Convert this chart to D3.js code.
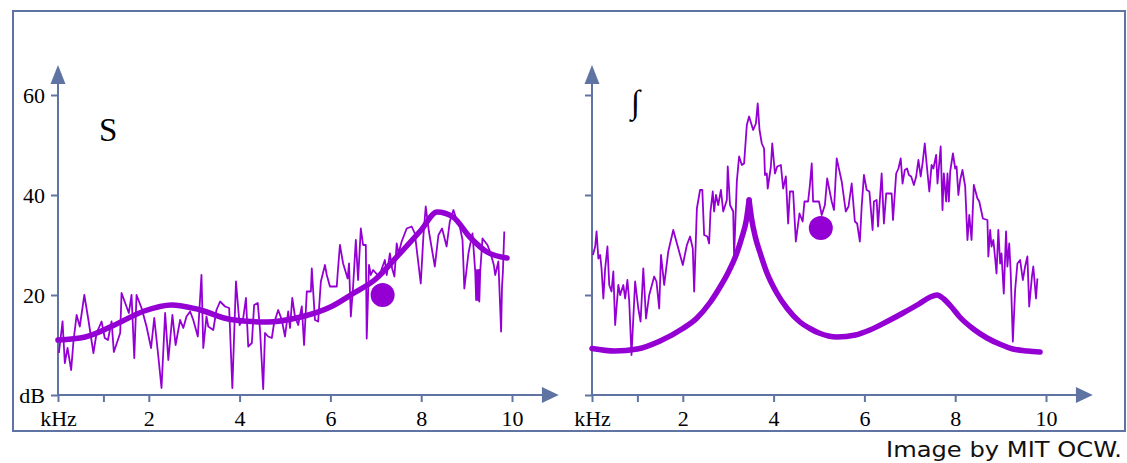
<!DOCTYPE html>
<html><head><meta charset="utf-8">
<script src="https://cdn.jsdelivr.net/npm/d3@7"></script>
<style>body{margin:0;background:#fff}svg{display:block}</style>
</head><body>
<script>
// ---------- DATA ----------
const xTicks = [0, 1, 2, 4, 6, 8, 10];
const xTickLabels = ["kHz", "", "2", "4", "6", "8", "10"];
const yTicks = [0, 20, 40, 60];
const yTickLabels = ["dB", "20", "40", "60"];
const panelTitles = ["S", "\u222B"];

// Panel S: noisy spectrum
const sNoisyKhz = [0.02,0.1,0.15,0.21,0.29,0.34,0.41,0.48,0.58,0.67,0.78,0.85,0.96,1.03,1.1,1.18,1.23,1.37,1.4,1.48,1.56,1.62,1.68,1.73,1.84,1.95,2.05,2.12,2.21,2.28,2.36,2.43,2.52,2.59,2.69,2.76,2.83,2.91,2.98,3.08,3.16,3.2,3.27,3.31,3.42,3.49,3.57,3.68,3.77,3.84,3.92,4.0,4.08,4.14,4.19,4.27,4.32,4.4,4.45,4.52,4.56,4.63,4.71,4.76,4.85,4.93,5.0,5.07,5.11,5.16,5.22,5.29,5.37,5.42,5.48,5.57,5.59,5.66,5.73,5.79,5.88,5.92,5.99,6.14,6.16,6.21,6.28,6.38,6.41,6.45,6.5,6.56,6.61,6.67,6.72,6.78,6.8,6.85,6.89,6.94,7.04,7.11,7.2,7.24,7.31,7.36,7.41,7.46,7.5,7.57,7.68,7.79,7.86,7.99,8.05,8.1,8.17,8.3,8.38,8.46,8.56,8.63,8.71,8.78,8.85,8.91,8.95,9.04,9.07,9.13,9.19,9.21,9.23,9.25,9.27,9.28,9.3,9.35,9.46,9.53,9.6,9.63,9.7,9.76,9.78,9.8,9.83];
const sNoisyDb  = [8.4,14.7,6.4,9.4,5,10.7,16,13.7,20,15,8.4,12.4,14.7,11.4,11,14.7,8.6,12.4,20.4,18.4,16.4,20,7.4,20,17.4,13.7,9.4,15.4,7.7,1.4,16.4,7,16,10,15,13.4,15.7,16.7,15,11.7,24,9.4,15.7,13.7,13,17,18.7,17.7,17.4,1.4,22.7,14,15.4,19.4,9.7,10.4,18,18.4,13,1.2,12.4,11.7,11.4,14.4,17,15,11.7,16.7,13.4,19.4,15.7,14,17.7,10,20.7,20.7,25.3,15,14.7,22.7,26,24,21.7,21.7,24.3,30,26.3,23.3,26.3,15.7,21.7,31,23,33.3,30,30,11.3,26,24,25,24,24.7,27,24,28.3,25.3,23.7,30.3,28.3,30.7,33.3,33.7,32.3,22.3,32,37.7,32.7,25.7,32,33.3,29.7,34.7,37,35,33.7,31,21.3,28.3,29.7,32.3,24.7,19,25,19,25,18.7,24.7,31.3,30,28.3,26,24,26.7,12.7,21.7,24.7,32.7];
// Panel S: smooth envelope
const sCurveKhz = [0,0.6,1.2,1.9,2.5,3.1,3.8,4.6,5.3,6.0,6.5,7.0,7.5,8.0,8.35,8.7,9.07,9.45,9.89];
const sCurveDb  = [11,11.6,13.8,16.8,18,17.1,15.1,14.6,15.5,17.6,20.3,23.2,28,33,36.6,35.6,31.6,28.6,27.4];
const sDot = [7.15, 20];

// Panel ∫: noisy spectrum
const iNoisyKhz = [0.02,0.07,0.1,0.14,0.18,0.21,0.25,0.29,0.34,0.38,0.43,0.47,0.51,0.58,0.62,0.69,0.73,0.78,0.82,0.87,0.95,1.02,1.07,1.13,1.19,1.26,1.37,1.42,1.48,1.52,1.59,1.68,1.79,1.88,2.0,2.09,2.16,2.22,2.25,2.31,2.38,2.43,2.47,2.54,2.58,2.61,2.66,2.69,2.73,2.78,2.84,2.89,2.97,2.99,3.04,3.11,3.13,3.19,3.24,3.3,3.35,3.41,3.46,3.55,3.61,3.65,3.69,3.74,3.79,3.81,3.85,3.87,3.94,3.97,4.03,4.08,4.16,4.21,4.27,4.32,4.36,4.43,4.49,4.57,4.64,4.68,4.76,4.8,4.84,4.87,5.0,5.06,5.13,5.18,5.28,5.33,5.39,5.5,5.59,5.65,5.72,5.79,5.84,5.9,5.94,5.99,6.05,6.11,6.18,6.21,6.27,6.3,6.38,6.43,6.48,6.6,6.63,6.7,6.75,6.8,6.84,6.89,6.94,6.98,7.03,7.09,7.14,7.19,7.24,7.28,7.33,7.37,7.43,7.48,7.52,7.58,7.61,7.68,7.72,7.75,7.8,7.83,7.86,7.89,7.95,8.0,8.03,8.07,8.11,8.16,8.22,8.27,8.31,8.36,8.41,8.49,8.53,8.61,8.71,8.73,8.77,8.8,8.84,8.88,8.91,8.95,8.99,9.02,9.07,9.12,9.15,9.19,9.22,9.27,9.32,9.37,9.43,9.49,9.54,9.59,9.63,9.69,9.72,9.78,9.81];
const iNoisyDb  = [28,29.7,32.7,27.3,28,25.3,19.3,25.3,29.7,22,20.7,24.7,14,22,20,22,19.3,23,18.7,8,22.7,17.3,14.7,25.3,15.3,20,23.7,22.7,17.3,28,22,28.7,33,30,26,30,31.7,29.3,20.7,37.3,41,41,32,31.7,30.3,36.7,40.7,36.7,40,38,41,36.7,39,45.7,38,36.7,27.7,42.7,47.7,46,46.3,54,55.7,53,54.3,58.3,53,50.3,49.3,44,44.3,41.3,45.7,50.3,44.3,45.7,46,41.3,43.7,34.3,40.7,40.7,30.7,36.3,34.7,38.7,38.7,42,46.3,38.7,38.7,36,38,43.3,38.7,37,47.3,42.7,36.7,37.7,42.3,34.7,34.3,30.7,37.7,44,41,40.7,33,38.7,39,33.7,44.3,34.3,40.3,40.3,35,44.3,45.3,47.3,42.3,45,45.3,44,43.7,42,43.7,47,43.7,46.3,50.3,46.3,40.7,46,45.3,48,42.3,49.7,37,44.3,38.7,44.3,38.7,44.7,48.3,45.3,45.7,40,43,45,41.7,31,36,31,42,39.3,38.7,35.3,35,27.7,33,29.7,31,27.3,24.3,33,26.3,28.3,20.3,32.7,25.7,30.3,25,10.7,21,26.3,27,23,25.7,27.7,17.7,23.7,25.7,19.3,23.3];
// Panel ∫: smooth envelope (cusp at its maximum)
const iCurveKhz = [0,0.5,1.0,1.5,2.0,2.3,2.6,2.82,3.0,3.19,3.3,3.4,3.46,3.52,3.6,3.7,3.85,4.07,4.3,4.58,4.8,5.0,5.4,5.8,6.12,6.5,6.85,7.2,7.45,7.6,7.75,7.9,8.1,8.4,8.7,9.0,9.27,9.6,9.87];
const iCurveDb  = [9.3,8.8,9.2,10.8,13.3,15.3,18.5,21.6,24.5,28.4,31.5,35,39,35,31.5,28.5,24.5,20.4,17.3,14.6,13.3,12.4,11.6,12,13,14.7,16.4,18.2,19.6,20,19.2,17.8,15.6,13.2,11.4,10.1,9.2,8.8,8.6];
const iDot = [5.04, 33.4];

// ---------- DRAW ----------
const W = 1127, H = 463;
const axisColor = "#6074a3";
const markColor = "#9400d3";
const serif = "'Liberation Serif','Times New Roman',serif";

const svg = d3.select("body").append("svg").attr("width", W).attr("height", H);

svg.append("rect").attr("x", 13).attr("y", 11).attr("width", 1112).attr("height", 420)
  .attr("fill", "none").attr("stroke", axisColor).attr("stroke-width", 2);

svg.append("text").attr("x", 1122).attr("y", 457).attr("text-anchor", "end")
  .attr("font-family", "'DejaVu Sans', Verdana, sans-serif").attr("font-size", 21)
  .attr("textLength", 236).attr("lengthAdjust", "spacingAndGlyphs")
  .attr("fill", "#111").text("Image by MIT OCW.");

const panels = [
  {x0: 58, title: panelTitles[0], tx: 99, ty: 141, tsize: 33, yLabels: true,
   nk: sNoisyKhz, nd: sNoisyDb, ck: sCurveKhz, cd: sCurveDb, dot: sDot, cusp: false},
  {x0: 592, title: panelTitles[1], tx: 631, ty: 113, tsize: 33, yLabels: false,
   nk: iNoisyKhz, nd: iNoisyDb, ck: iCurveKhz, cd: iCurveDb, dot: iDot, cusp: true}
];

panels.forEach(p => {
  const x = d3.scaleLinear().domain([0, 10]).range([p.x0, p.x0 + 454]);
  const y = d3.scaleLinear().domain([0, 60]).range([395, 95]);
  const g = svg.append("g");

  // y axis
  const yAxis = d3.axisLeft(y).tickValues(yTicks).tickSize(7).tickPadding(6)
    .tickFormat((d, i) => p.yLabels ? yTickLabels[i] : "");
  const ga = g.append("g").attr("transform", `translate(${x(0)},0)`).call(yAxis);
  ga.select(".domain").remove();
  ga.selectAll("line").attr("stroke", axisColor).attr("stroke-width", 2);
  ga.selectAll("text").attr("font-family", serif).attr("font-size", 22).attr("fill", "#000");

  // x axis
  const xAxis = d3.axisBottom(x).tickValues(xTicks).tickSize(7).tickPadding(8)
    .tickFormat((d, i) => xTickLabels[i]);
  const gx = g.append("g").attr("transform", `translate(0,${y(0)})`).call(xAxis);
  gx.select(".domain").remove();
  gx.selectAll("line").attr("stroke", axisColor).attr("stroke-width", 2);
  gx.selectAll("text").attr("font-family", serif).attr("font-size", 22).attr("fill", "#000");

  // axis lines with arrows
  g.append("line").attr("x1", x(0)).attr("x2", x(0)).attr("y1", y(0)).attr("y2", y(62.6))
    .attr("stroke", axisColor).attr("stroke-width", 2);
  g.append("path").attr("fill", axisColor)
    .attr("d", `M${x(0)},${y(66)} L${x(0)-7.5},${y(62.2)} L${x(0)+7.5},${y(62.2)} Z`);
  g.append("line").attr("x1", x(0)).attr("x2", x(10.7)).attr("y1", y(0)).attr("y2", y(0))
    .attr("stroke", axisColor).attr("stroke-width", 2);
  g.append("path").attr("fill", axisColor)
    .attr("d", `M${x(11.03)},${y(0)} L${x(10.66)},${y(0)-8} L${x(10.66)},${y(0)+8} Z`);

  // title
  g.append("text").attr("x", p.tx).attr("y", p.ty).attr("font-family", serif)
    .attr("font-size", p.tsize).attr("fill", "#000").text(p.title);

  // noisy line
  const noisy = p.nk.map((k, i) => [k, p.nd[i]]);
  g.append("path").datum(noisy)
    .attr("d", d3.line().x(d => x(d[0])).y(d => y(d[1])))
    .attr("fill", "none").attr("stroke", markColor).attr("stroke-width", 1.8)
    .attr("stroke-linejoin", "round");

  // smooth envelope
  const curve = p.ck.map((k, i) => [k, p.cd[i]]);
  const line = d3.line().x(d => x(d[0])).y(d => y(d[1])).curve(d3.curveMonotoneX);
  let segs = [curve];
  if (p.cusp) {
    const mi = d3.maxIndex(p.cd);
    segs = [curve.slice(0, mi + 1), curve.slice(mi)];
  }
  segs.forEach(s => {
    g.append("path").datum(s).attr("d", line)
      .attr("fill", "none").attr("stroke", markColor).attr("stroke-width", 5.5)
      .attr("stroke-linecap", "round").attr("stroke-linejoin", "miter");
  });

  // dot
  g.append("circle").attr("cx", x(p.dot[0])).attr("cy", y(p.dot[1])).attr("r", 12)
    .attr("fill", markColor);
});
</script>
</body></html>
